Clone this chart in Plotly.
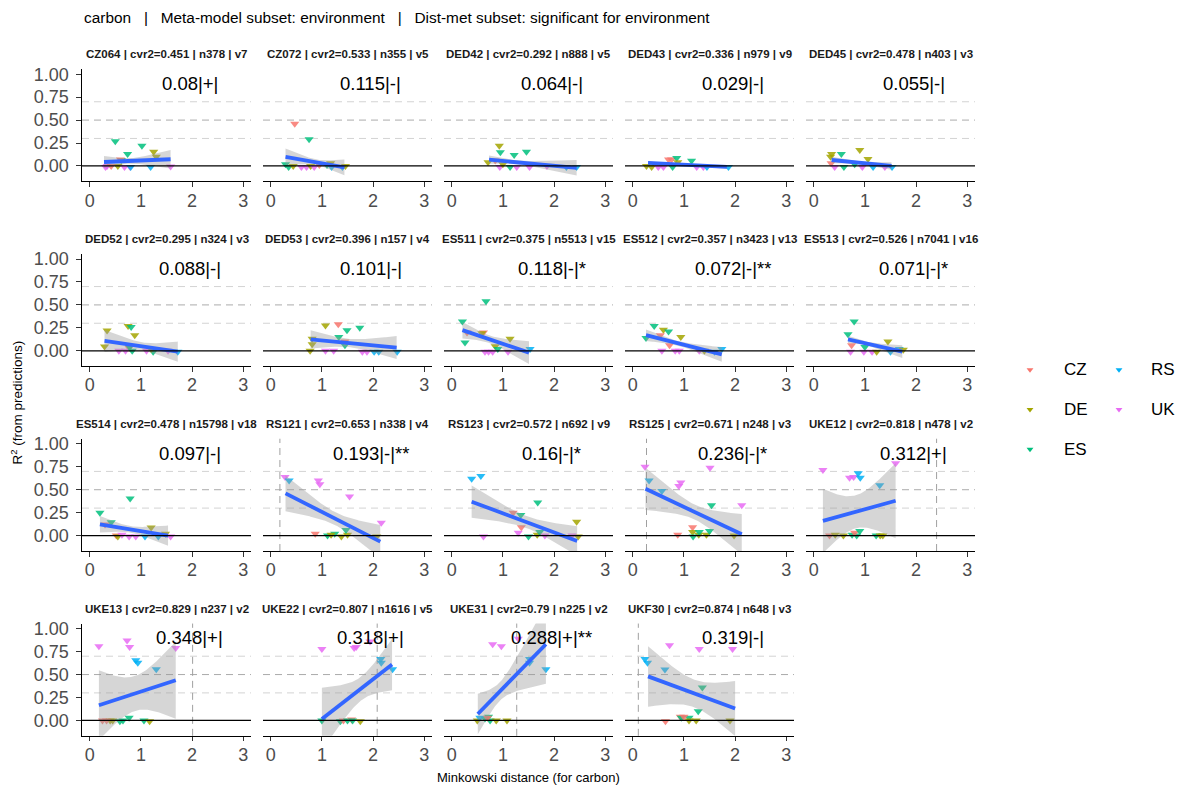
import numpy as np
import plotly.graph_objects as go

W, H = 1184, 789
FONT = "Liberation Sans, Arial, Helvetica, sans-serif"

# ---------------- data ----------------
countries = ["CZ", "DE", "ES", "RS", "UK"]
country_colors = ["#F8766D", "#A3A500", "#00BF7D", "#00B0F6", "#E76BF3"]

regions = ["CZ064", "CZ072", "DED42", "DED43", "DED45",
           "DED52", "DED53", "ES511", "ES512", "ES513",
           "ES514", "RS121", "RS123", "RS125", "UKE12",
           "UKE13", "UKE22", "UKE31", "UKF30"]
cvr2 = ["0.451", "0.533", "0.292", "0.336", "0.478",
        "0.295", "0.396", "0.375", "0.357", "0.526",
        "0.478", "0.653", "0.572", "0.671", "0.818",
        "0.829", "0.807", "0.79", "0.874"]
n_obs = [378, 355, 888, 979, 403, 324, 157, 5513, 3423, 7041,
         15798, 338, 692, 248, 478, 237, 1616, 225, 648]
n_vars = [7, 5, 5, 9, 3, 3, 4, 15, 13, 16, 18, 4, 9, 3, 2, 2, 5, 2, 3]
r2_labels = ["0.08|+|", "0.115|-|", "0.064|-|", "0.029|-|", "0.055|-|",
             "0.088|-|", "0.101|-|", "0.118|-|*", "0.072|-|**", "0.071|-|*",
             "0.097|-|", "0.193|-|**", "0.16|-|*", "0.236|-|*", "0.312|+|",
             "0.348|+|", "0.318|+|", "0.288|+|**", "0.319|-|"]
vline_x = [None, None, None, None, None,
           None, None, None, None, None,
           None, 0.18, None, 0.27, 2.4,
           2.01, 2.08, 1.27, 0.11]

# linear fit summaries
fit_x0 = [0.28, 0.29, 0.73, 0.30, 0.35, 0.29, 0.78, 0.21, 0.26, 0.67,
          0.20, 0.29, 0.39, 0.25, 0.18, 0.18, 1.00, 0.51, 0.30]
fit_x1 = [1.58, 1.44, 2.44, 1.84, 1.52, 1.72, 2.46, 1.51, 1.74, 1.73,
          1.53, 2.14, 2.45, 2.13, 1.60, 1.68, 2.37, 1.84, 2.00]
fit_y0 = [0.043, 0.10, 0.068, 0.033, 0.065, 0.107, 0.125, 0.225, 0.17, 0.125,
          0.123, 0.46, 0.37, 0.51, 0.16, 0.166, 0.015, 0.07, 0.48]
fit_y1 = [0.073, -0.015, -0.02, -0.01, 0.0, -0.01, 0.035, -0.02, -0.04, -0.01,
          0.0, -0.065, -0.058, 0.015, 0.38, 0.438, 0.61, 0.83, 0.13]
ci_hw0 = [0.065, 0.09, 0.045, 0.015, 0.035, 0.12, 0.10, 0.09, 0.063, 0.04,
          0.09, 0.195, 0.175, 0.23, 0.35, 0.38, 0.34, 0.22, 0.33]
ci_hw1 = [0.10, 0.085, 0.085, 0.02, 0.04, 0.11, 0.125, 0.125, 0.08, 0.07,
          0.11, 0.18, 0.16, 0.22, 0.41, 0.42, 0.28, 0.43, 0.30]
ci_hwmin = [0.03, 0.03, 0.02, 0.008, 0.015, 0.045, 0.045, 0.04, 0.025, 0.02,
            0.035, 0.07, 0.065, 0.08, 0.18, 0.19, 0.13, 0.10, 0.15]

# points per region: (country, distance, R2)
pts_CZ064 = [("ES", 0.50, 0.27), ("ES", 0.74, 0.13), ("ES", 1.02, 0.22), ("DE", 1.25, 0.155),
             ("DE", 1.30, 0.10), ("ES", 0.62, 0.065), ("CZ", 0.60, 0.07), ("UK", 0.31, -0.01),
             ("UK", 0.34, 0.0), ("DE", 0.55, 0.0), ("UK", 0.68, -0.01), ("UK", 0.79, -0.01),
             ("RS", 0.80, -0.01), ("RS", 1.19, -0.01), ("UK", 1.58, -0.005), ("CZ", 0.42, 0.0)]
pts_CZ072 = [("CZ", 0.47, 0.46), ("ES", 0.75, 0.29), ("ES", 0.29, 0.02), ("ES", 0.35, -0.01),
             ("DE", 0.44, 0.0), ("UK", 0.60, -0.01), ("UK", 0.70, -0.01), ("DE", 0.78, 0.0),
             ("ES", 1.10, 0.01), ("DE", 1.17, 0.03), ("RS", 1.19, -0.01), ("RS", 1.40, -0.01),
             ("DE", 1.46, 0.0), ("UK", 0.85, -0.01), ("CZ", 0.95, 0.01)]
pts_DED42 = [("DE", 0.93, 0.22), ("ES", 0.95, 0.15), ("ES", 1.22, 0.12), ("ES", 1.46, 0.155),
             ("DE", 0.71, 0.04), ("CZ", 0.85, 0.06), ("UK", 0.94, -0.01), ("ES", 1.14, -0.01),
             ("UK", 1.27, -0.01), ("UK", 1.52, -0.01), ("UK", 1.86, 0.0), ("RS", 2.24, -0.01),
             ("RS", 2.44, -0.01), ("DE", 1.00, 0.02)]
pts_DED43 = [("DE", 0.27, 0.0), ("DE", 0.37, -0.01), ("UK", 0.50, -0.01), ("UK", 0.60, -0.01),
             ("CZ", 0.70, 0.07), ("CZ", 0.76, 0.07), ("ES", 0.86, 0.087), ("ES", 0.78, -0.01),
             ("DE", 0.88, 0.04), ("ES", 1.15, 0.058), ("UK", 1.25, -0.01), ("UK", 1.38, -0.01),
             ("RS", 1.45, -0.01), ("RS", 1.87, -0.01)]
pts_DED45 = [("DE", 0.35, 0.13), ("DE", 0.33, 0.10), ("ES", 0.54, 0.13), ("DE", 0.90, 0.175),
             ("DE", 1.06, 0.076), ("CZ", 0.34, 0.03), ("UK", 0.41, -0.01), ("ES", 0.59, -0.01),
             ("UK", 0.95, -0.01), ("RS", 1.16, -0.01), ("UK", 1.39, -0.01), ("RS", 1.53, -0.01),
             ("ES", 0.80, 0.02)]
pts_DED52 = [("DE", 0.34, 0.22), ("DE", 0.29, 0.046), ("DE", 0.75, 0.27), ("ES", 0.81, 0.26),
             ("DE", 0.88, 0.17), ("CZ", 0.77, 0.03), ("UK", 0.57, 0.0), ("UK", 0.70, 0.0),
             ("ES", 0.83, 0.0), ("UK", 1.11, 0.0), ("ES", 1.24, -0.01), ("UK", 1.53, 0.0),
             ("RS", 1.72, -0.01), ("DE", 1.20, 0.02), ("ES", 0.78, 0.04)]
pts_DED53 = [("DE", 1.07, 0.275), ("CZ", 1.32, 0.29), ("ES", 1.49, 0.225), ("ES", 1.74, 0.25),
             ("ES", 1.33, 0.15), ("DE", 0.81, 0.13), ("DE", 0.81, 0.07), ("DE", 0.77, 0.0),
             ("UK", 1.07, 0.0), ("UK", 1.23, 0.0), ("ES", 1.45, 0.06), ("CZ", 1.45, 0.10),
             ("UK", 1.79, -0.01), ("UK", 1.88, -0.01), ("RS", 2.02, -0.01), ("RS", 2.11, -0.01),
             ("RS", 2.47, -0.01)]
pts_ES511 = [("ES", 0.21, 0.32), ("ES", 0.67, 0.54), ("ES", 0.26, 0.09), ("CZ", 0.62, 0.20),
             ("DE", 0.59, 0.19), ("CZ", 0.30, 0.20), ("DE", 1.14, 0.13), ("DE", 0.85, 0.05),
             ("UK", 0.65, -0.01), ("UK", 0.72, -0.01), ("UK", 0.80, -0.01), ("UK", 1.10, -0.01),
             ("RS", 1.53, 0.02), ("ES", 0.90, 0.02)]
pts_ES512 = [("ES", 0.42, 0.27), ("DE", 0.60, 0.23), ("ES", 0.70, 0.21), ("DE", 0.94, 0.15),
             ("CZ", 0.54, 0.17), ("ES", 0.26, 0.14), ("CZ", 0.72, 0.06), ("UK", 0.57, 0.0),
             ("UK", 0.83, 0.0), ("UK", 0.91, 0.0), ("UK", 1.30, 0.0), ("RS", 1.74, 0.02),
             ("RS", 1.60, -0.01), ("DE", 1.40, 0.0)]
pts_ES513 = [("ES", 0.79, 0.32), ("ES", 0.67, 0.18), ("DE", 1.45, 0.10), ("CZ", 0.74, 0.06),
             ("UK", 0.72, -0.01), ("UK", 0.98, -0.01), ("UK", 1.14, -0.01), ("DE", 1.23, -0.01),
             ("RS", 1.50, -0.01), ("RS", 1.67, 0.02), ("DE", 1.75, 0.01), ("ES", 1.00, 0.04)]
pts_ES514 = [("ES", 0.20, 0.25), ("ES", 0.79, 0.405), ("ES", 0.42, 0.145), ("DE", 1.20, 0.087),
             ("DE", 1.48, 0.02), ("CZ", 0.52, 0.0), ("DE", 0.55, -0.01), ("UK", 0.63, 0.01),
             ("UK", 0.77, -0.01), ("UK", 0.90, -0.01), ("RS", 1.08, -0.01), ("RS", 1.34, -0.01),
             ("UK", 1.58, -0.01), ("CZ", 0.30, 0.12)]
pts_RS121 = [("UK", 0.28, 0.64), ("RS", 0.36, 0.60), ("UK", 0.93, 0.60), ("UK", 0.96, 0.56),
             ("UK", 1.54, 0.425), ("UK", 2.16, 0.14), ("CZ", 0.87, 0.02), ("ES", 1.11, 0.0),
             ("ES", 1.25, 0.02), ("DE", 1.38, -0.01), ("DE", 1.50, 0.01), ("ES", 1.47, 0.06),
             ("DE", 2.07, -0.01), ("DE", 1.18, 0.01)]
pts_RS123 = [("RS", 0.39, 0.62), ("RS", 0.57, 0.65), ("ES", 1.68, 0.36), ("CZ", 1.20, 0.25),
             ("ES", 1.35, 0.225), ("CZ", 1.36, 0.09), ("UK", 0.62, -0.01), ("UK", 1.30, 0.03),
             ("ES", 1.50, -0.01), ("DE", 1.67, 0.01), ("ES", 1.72, 0.04), ("UK", 1.82, 0.0),
             ("DE", 2.44, 0.15), ("DE", 2.47, -0.01), ("UK", 2.35, 0.0)]
pts_RS125 = [("UK", 0.24, 0.75), ("RS", 0.32, 0.60), ("RS", 0.57, 0.485), ("UK", 0.94, 0.58),
             ("UK", 0.90, 0.54), ("UK", 1.51, 0.74), ("ES", 1.54, 0.33), ("UK", 2.13, 0.33),
             ("CZ", 0.88, 0.01), ("CZ", 1.17, 0.09), ("DE", 1.17, 0.04), ("DE", 1.29, 0.01),
             ("DE", 1.44, 0.01), ("ES", 1.18, -0.01), ("ES", 1.30, 0.04), ("ES", 1.50, 0.05),
             ("DE", 1.98, 0.0)]
pts_UKE12 = [("UK", 0.18, 0.715), ("UK", 0.70, 0.63), ("UK", 0.78, 0.64), ("RS", 0.87, 0.68),
             ("RS", 0.91, 0.63), ("RS", 1.29, 0.55), ("UK", 1.60, 0.79), ("CZ", 0.31, 0.0),
             ("DE", 0.42, 0.01), ("DE", 0.58, 0.0), ("ES", 0.75, 0.01), ("ES", 0.84, 0.0),
             ("CZ", 0.80, 0.03), ("ES", 0.90, 0.05), ("ES", 1.22, 0.0), ("DE", 1.35, 0.0),
             ("DE", 1.30, 0.0)]
pts_UKE13 = [("UK", 0.18, 0.81), ("UK", 0.73, 0.87), ("UK", 0.78, 0.80), ("RS", 0.90, 0.655),
             ("RS", 0.94, 0.63), ("RS", 1.30, 0.557), ("UK", 1.68, 0.79), ("CZ", 0.25, 0.0),
             ("DE", 0.40, 0.0), ("DE", 0.45, 0.0), ("ES", 0.59, -0.01), ("ES", 0.65, 0.0),
             ("ES", 0.77, 0.03), ("ES", 1.06, 0.0), ("DE", 1.17, -0.01), ("CZ", 0.33, 0.0)]
pts_UKE22 = [("UK", 1.00, 0.78), ("UK", 1.63, 0.79), ("UK", 1.67, 0.80), ("UK", 1.94, 0.86),
             ("RS", 2.15, 0.67), ("RS", 2.16, 0.63), ("RS", 2.38, 0.557), ("ES", 1.00, 0.0),
             ("ES", 1.36, -0.01), ("CZ", 1.42, 0.0), ("ES", 1.50, 0.0), ("CZ", 1.58, 0.01),
             ("ES", 1.60, 0.0), ("DE", 1.75, -0.01)]
pts_UKE31 = [("UK", 0.80, 0.83), ("UK", 0.97, 0.81), ("UK", 1.30, 0.89), ("RS", 1.52, 0.67),
             ("RS", 1.52, 0.63), ("RS", 1.84, 0.557), ("DE", 0.50, 0.0), ("ES", 0.65, 0.02),
             ("ES", 0.72, 0.04), ("ES", 0.75, 0.0), ("DE", 0.87, 0.0), ("DE", 1.08, 0.0),
             ("RS", 0.55, 0.03), ("CZ", 0.70, 0.03)]
pts_UKF30 = [("RS", 0.24, 0.67), ("RS", 0.29, 0.63), ("UK", 0.72, 0.82), ("RS", 0.63, 0.554),
             ("UK", 1.30, 0.78), ("UK", 1.95, 0.78), ("ES", 1.28, 0.10), ("ES", 1.36, 0.36),
             ("CZ", 0.64, -0.01), ("CZ", 0.93, 0.04), ("ES", 0.95, 0.03), ("ES", 1.10, 0.03),
             ("DE", 1.10, 0.0), ("DE", 1.24, 0.0), ("DE", 1.90, 0.0), ("CZ", 1.00, 0.04)]

points = [pts_CZ064, pts_CZ072, pts_DED42, pts_DED43, pts_DED45,
          pts_DED52, pts_DED53, pts_ES511, pts_ES512, pts_ES513,
          pts_ES514, pts_RS121, pts_RS123, pts_RS125, pts_UKE12,
          pts_UKE13, pts_UKE22, pts_UKE31, pts_UKF30]

x_ticks = [0, 1, 2, 3]
y_ticks = [0, 0.25, 0.5, 0.75, 1.0]
y_ticktext = ["0.00", "0.25", "0.50", "0.75", "1.00"]
ref_lines_light = [0.3, 0.7]
ref_line_mid = 0.5

title_text = ("carbon\u00a0\u00a0\u00a0|\u00a0\u00a0\u00a0Meta-model subset: environment"
              "\u00a0\u00a0\u00a0|\u00a0\u00a0\u00a0Dist-met subset: significant for environment")
x_title = "Minkowski distance (for carbon)"
y_title = "R<sup>2</sup> (from predictions)"

# ---------------- layout geometry (pixels) ----------------
NCOL = 5
PANEL_W, PANEL_H = 169, 113
COL_STEP, ROW_STEP = 181, 186
LEFT0, TOP0 = 82, 64.5
XR = [-0.15, 3.15]
YR = [-0.168, 1.056]

col_map = dict(zip(countries, country_colors))


def ci_band(x0, x1, y0, y1, h0, h1, hm, n=80):
    xs = np.linspace(x0, x1, n)
    yfit = y0 + (y1 - y0) * (xs - x0) / (x1 - x0)
    a0 = max(h0 ** 2 - hm ** 2, 1e-9)
    a1 = max(h1 ** 2 - hm ** 2, 1e-9)
    r = np.sqrt(a0 / a1)
    L = x1 - x0
    d1 = L / (1 + r)
    d0 = L - d1
    xc = x0 + d0
    k = a1 / d1 ** 2
    hw = np.sqrt(hm ** 2 + k * (xs - xc) ** 2)
    return xs, yfit + hw, yfit - hw


fig = go.Figure()
layout = dict()
shapes = []
annotations = []

for i, reg in enumerate(regions):
    row, col = divmod(i, NCOL)
    xl = LEFT0 + COL_STEP * col
    xr = xl + PANEL_W
    yt = TOP0 + ROW_STEP * row
    yb = yt + PANEL_H
    ax = "" if i == 0 else str(i + 1)
    xa, ya = "x" + ax, "y" + ax

    layout["xaxis" + ax] = dict(
        domain=[xl / W, xr / W], range=XR, anchor=ya,
        showline=True, linecolor="black", linewidth=1.1, mirror=False,
        ticks="outside", ticklen=4.5, tickwidth=1.1, tickcolor="#333333",
        tickvals=x_ticks, tickfont=dict(size=18, color="#4D4D4D", family=FONT),
        showgrid=False, zeroline=False, fixedrange=True, ticklabelstandoff=-2,
    )
    ydict = dict(
        domain=[1 - yb / H, 1 - yt / H], range=YR, anchor=xa,
        showgrid=False, zeroline=False, fixedrange=True,
    )
    if col == 0:
        ydict.update(showline=True, linecolor="black", linewidth=1.1,
                     ticks="outside", ticklen=4.5, tickwidth=1.1, tickcolor="#333333",
                     tickvals=y_ticks, ticktext=y_ticktext,
                     tickfont=dict(size=18, color="#4D4D4D", family=FONT),
                     ticklabelstandoff=4)
    else:
        ydict.update(showline=False, ticks="", showticklabels=False)
    layout["yaxis" + ax] = ydict

    # reference lines
    for yv in ref_lines_light:
        shapes.append(dict(type="line", xref=xa + " domain", yref=ya, x0=0, x1=1, y0=yv, y1=yv,
                           line=dict(color="#D3D3D3", width=1, dash="7px,5px"), layer="below"))
    shapes.append(dict(type="line", xref=xa + " domain", yref=ya, x0=0, x1=1,
                       y0=ref_line_mid, y1=ref_line_mid,
                       line=dict(color="#ABABAB", width=1, dash="7px,5px"), layer="below"))
    if vline_x[i] is not None:
        shapes.append(dict(type="line", xref=xa, yref=ya + " domain", x0=vline_x[i], x1=vline_x[i],
                           y0=0, y1=1, line=dict(color="#A0A0A0", width=1, dash="7px,5px"),
                           layer="below"))

    # points
    pts = points[i]
    fig.add_trace(go.Scatter(
        x=[p[1] for p in pts], y=[p[2] for p in pts], xaxis=xa, yaxis=ya,
        mode="markers", showlegend=False, hoverinfo="skip",
        marker=dict(symbol="triangle-down", size=8, opacity=0.85,
                    color=[col_map[p[0]] for p in pts], line=dict(width=0)),
    ))

    # smooth band + line
    xs, up, lo = ci_band(fit_x0[i], fit_x1[i], fit_y0[i], fit_y1[i],
                         ci_hw0[i], ci_hw1[i], ci_hwmin[i])
    fig.add_trace(go.Scatter(
        x=np.concatenate([xs, xs[::-1]]), y=np.concatenate([up, lo[::-1]]),
        xaxis=xa, yaxis=ya, mode="lines", fill="toself",
        fillcolor="rgba(153,153,153,0.4)", line=dict(width=0),
        showlegend=False, hoverinfo="skip",
    ))
    fig.add_trace(go.Scatter(
        x=[fit_x0[i], fit_x1[i]], y=[fit_y0[i], fit_y1[i]], xaxis=xa, yaxis=ya,
        mode="lines", line=dict(color="#3366FF", width=3.8),
        showlegend=False, hoverinfo="skip",
    ))

    # zero line
    shapes.append(dict(type="line", xref=xa + " domain", yref=ya, x0=0, x1=1, y0=0, y1=0,
                       line=dict(color="black", width=1.2), layer="above"))

    # strip title
    annotations.append(dict(
        text="<b>%s | cvr2=%s | n%d | v%d</b>" % (reg, cvr2[i], n_obs[i], n_vars[i]),
        xref="paper", yref="paper", x=(xl + xr) / 2 / W, y=1 - (yt - 15) / H,
        xanchor="center", yanchor="middle", showarrow=False,
        font=dict(size=11.5, color="#1A1A1A", family=FONT),
    ))
    # label
    annotations.append(dict(
        text=r2_labels[i], xref=xa, yref=ya, x=1.95, y=0.9,
        xanchor="center", yanchor="middle", showarrow=False,
        font=dict(size=18.5, color="black", family=FONT),
    ))

# ---------------- legend (manual, two columns) ----------------
LEG = str(len(regions) + 1)
layout["xaxis" + LEG] = dict(domain=[0, 1], range=[0, W], visible=False, fixedrange=True,
                             anchor="y" + LEG)
layout["yaxis" + LEG] = dict(domain=[0, 1], range=[H, 0], visible=False, fixedrange=True,
                             anchor="x" + LEG)
leg_col_x = [1030, 1119]
leg_text_x = [1062, 1149]
leg_row_y = [367, 407, 447]
lx, ly, lc = [], [], []
for k, (c, colr) in enumerate(zip(countries, country_colors)):
    cc, rr = divmod(k, 3)
    lx.append(leg_col_x[cc])
    ly.append(leg_row_y[rr])
    lc.append(colr)
    annotations.append(dict(text=c, xref="paper", yref="paper", x=leg_text_x[cc] / W,
                            y=1 - leg_row_y[rr] / H, xanchor="left", yanchor="middle",
                            showarrow=False, font=dict(size=17, color="black", family=FONT)))
fig.add_trace(go.Scatter(x=lx, y=ly, xaxis="x" + LEG, yaxis="y" + LEG, mode="markers",
                         marker=dict(symbol="triangle-down", size=6, color=lc, line=dict(width=0)),
                         showlegend=False, hoverinfo="skip"))

# ---------------- titles ----------------
annotations.append(dict(text=title_text, xref="paper", yref="paper", x=82 / W, y=1 - 13 / H,
                        xanchor="left", yanchor="middle", showarrow=False,
                        font=dict(size=15.4, color="black", family=FONT)))
annotations.append(dict(text=x_title, xref="paper", yref="paper", x=528 / W, y=1 - 777 / H,
                        xanchor="center", yanchor="middle", showarrow=False,
                        font=dict(size=13, color="black", family=FONT)))
annotations.append(dict(text=y_title, xref="paper", yref="paper", x=17 / W, y=1 - 400 / H,
                        xanchor="center", yanchor="middle", showarrow=False, textangle=-90,
                        font=dict(size=13.5, color="black", family=FONT)))

fig.update_layout(
    width=W, height=H, margin=dict(l=0, r=0, t=0, b=0),
    paper_bgcolor="white", plot_bgcolor="rgba(0,0,0,0)",
    showlegend=False, font=dict(family=FONT),
    shapes=shapes, annotations=annotations, **layout,
)

fig.write_html("out.html", config={"displayModeBar": False})
